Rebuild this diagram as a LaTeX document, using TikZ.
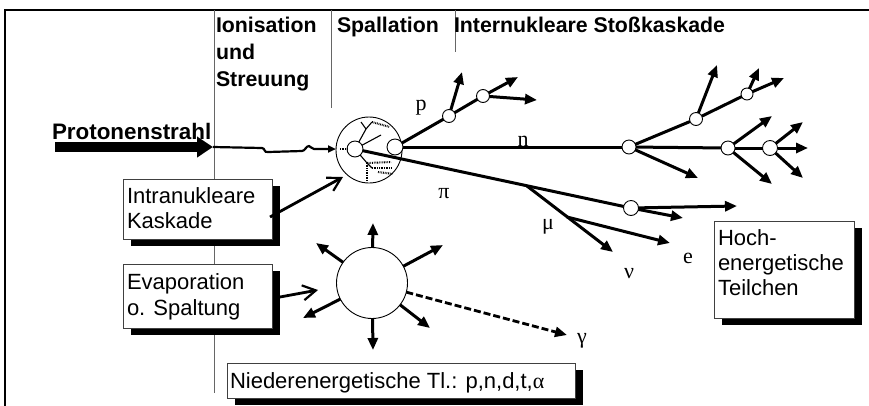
\documentclass[tikz,border=0pt]{standalone}
\usepackage{fontspec}
\setmainfont{Liberation Sans}
\newfontfamily\grfont{Liberation Serif}
\usetikzlibrary{arrows.meta}

\begin{document}
\begin{tikzpicture}[x=1pt, y=-1pt,
  every node/.style={inner sep=0pt, outer sep=0pt},
  hdr/.style={font=\fontsize{21.3}{25}\selectfont\bfseries, anchor=base west},
  txt/.style={font=\fontsize{22}{25}\selectfont, anchor=base west},
  lbl/.style={font=\fontsize{22}{25}\grfont, anchor=base},
  sep/.style={draw=black!60, line width=0.9pt},
  track/.style={line width=3pt},
  ray/.style={line width=3pt, -{Triangle[length=12pt,width=10pt]}},
  vtx/.style={circle, draw, fill=white, line width=0.9pt},
  infobox/.style={rectangle, draw=black!75, line width=0.8pt, fill=white, anchor=north west,
    preaction={fill=black, transform canvas={shift={(8pt,-7pt)}}}},
  fine/.style={line width=1.1pt},
  dots/.style={line width=2pt, dash pattern=on 0.8pt off 0.9pt},
  barb/.style={line width=2.8pt, -{Straight Barb[length=13pt,width=15pt,line width=2.2pt]}},
]
\useasboundingbox (0,0) rectangle (869,405);

% frame (open to the right and bottom)
\draw[line width=2pt] (5,406) -- (5,10) -- (870,10);

% column separators
\draw[sep] (214,10) -- (214,393);
\draw[sep] (331,10) -- (331,108);
\draw[sep] (455,10) -- (455,52);

% column headings
\node[hdr] (hIon) at (216,32) {Ionisation};
\node[hdr] (hUnd) at (216,59) {und};
\node[hdr] (hStr) at (216,86) {Streuung};
\node[hdr] (hSpa) at (337,32) {Spallation};
\node[hdr] (hInt) at (454,32) {Internukleare Stoßkaskade};

% incoming proton beam
\node[hdr, font=\fontsize{22.4}{25}\selectfont\bfseries] (beamlbl) at (52,139) {Protonenstrahl};
\coordinate (beamS) at (55,147);
\coordinate (beamE) at (213,147);
\draw[line width=9.5pt, -{Triangle[length=16pt,width=20pt]}] (beamS) -- (beamE);

% spallation nucleus
\node[circle, draw, line width=0.9pt, minimum size=66pt] (spal) at (369,150) {};
\coordinate (hitE) at (336,149);
\draw[line width=2.2pt, -{Triangle[length=8pt,width=7pt]}] (beamE) -- (262,148)
  .. controls (265,148) and (264,153) .. (268,152) -- (302,151)
  .. controls (305,151) and (306,146) .. (309,146)
  .. controls (311,146) and (311,149) .. (314,149) -- (hitE);

% intranuclear cascade inside the nucleus
\node[vtx, minimum size=16pt] (c1) at (355,149) {};
\node[vtx, minimum size=16pt] (c2) at (395,147) {};
\coordinate (iy) at (366,129);
\coordinate (iya) at (361,122);
\coordinate (iyb) at (372,122);
\coordinate (iq) at (381,135);
\coordinate (ilo) at (367,163);
\draw[fine] (c1) -- (iy) -- (iya);
\draw[fine] (iy) -- (iyb);
\draw[fine] (c1) -- (iq);
\draw[fine] (c1) -- (ilo);
\draw[dots] (iyb) -- (390,127);
\draw[dots] (340,149) -- (c1);
\draw[dots] (ilo) -- (367,181);
\draw[dots] (ilo) -- (391,162);
\draw[dots] (372,168) -- (392,168);
\draw[fine] (372,168) -- (ilo);
\draw[dots] (378,172) -- (393,174);

% intranuclear cascade box
\node[infobox, minimum width=149pt, minimum height=60pt] (intra) at (123,179) {};
\node[txt] (intraA) at (127,203) {Intranukleare};
\node[txt] (intraB) at (127,228) {Kaskade};
\coordinate (intraS) at (270,217);
\coordinate (intraT) at (343,177);
\draw[barb] (intraS) -- (intraT);

% high-energy particles
\node[vtx, minimum size=13pt] (p1) at (449,116) {};
\node[vtx, minimum size=13pt] (p2) at (483,96) {};
\node[vtx, minimum size=14pt] (n1) at (629,147) {};
\node[vtx, minimum size=13pt] (n2) at (696,119) {};
\node[vtx, minimum size=14pt] (n3) at (728,148) {};
\node[vtx, minimum size=15pt] (n4) at (770,148) {};
\node[vtx, minimum size=12pt] (n5) at (747,94) {};
\node[vtx, minimum size=15pt] (pi1) at (631,208) {};

\coordinate (p1a) at (462,72);
\coordinate (p2a) at (518,77);
\coordinate (p2b) at (537,100);
\coordinate (n1a) at (698,178);
\coordinate (n2a) at (717,65);
\coordinate (n5a) at (759,68);
\coordinate (n5b) at (784,78);
\coordinate (n3a) at (772,116);
\coordinate (n3b) at (772,184);
\coordinate (n4a) at (803,122);
\coordinate (n4b) at (803,178);
\coordinate (n4c) at (808,148);
\coordinate (pia) at (737,206);
\coordinate (pib) at (683,218);
\coordinate (mu) at (527,186);
\coordinate (nuT) at (613,252);
\coordinate (eS) at (567,217);
\coordinate (eT) at (670,243);

\draw[track] (c2) -- (p1);
\draw[track] (p1) -- (p2);
\draw[ray] (p1) -- (p1a);
\draw[ray] (p2) -- (p2a);
\draw[ray] (p2) -- (p2b);
\draw[track] (c2) -- (n1);
\draw[track] (n1) -- (n2);
\draw[track] (n1) -- (n3);
\draw[track] (n3) -- (n4);
\draw[track] (n2) -- (n5);
\draw[ray] (n1) -- (n1a);
\draw[ray] (n2) -- (n2a);
\draw[ray] (n5) -- (n5a);
\draw[ray] (n5) -- (n5b);
\draw[ray] (n3) -- (n3a);
\draw[ray] (n3) -- (n3b);
\draw[ray] (n4) -- (n4a);
\draw[ray] (n4) -- (n4b);
\draw[ray] (n4) -- (n4c);
\draw[track] (c1) -- (pi1);
\draw[ray] (pi1) -- (pia);
\draw[ray] (pi1) -- (pib);
\draw[ray] (mu) -- (nuT);
\draw[ray] (eS) -- (eT);

% particle labels
\node[lbl] (lp) at (421,110) {p};
\node[lbl] (ln) at (523,146) {n};
\node[lbl] (lpi) at (444,198) {π};
\node[lbl] (lmu) at (548,229) {μ};
\node[lbl] (lnu) at (629,278) {ν};
\node[lbl] (le) at (688,263) {e};
\node[lbl] (lga) at (582,343) {γ};

% high-energy particles box
\node[infobox, minimum width=140pt, minimum height=97pt] (hoch) at (714,221) {};
\node[txt] (hochA) at (718,245) {Hoch-};
\node[txt] (hochB) at (718,270) {energetische};
\node[txt] (hochC) at (718,295) {Teilchen};

% evaporation / fission
\node[infobox, minimum width=149pt, minimum height=64pt] (evbox) at (123,264) {};
\node[txt] (evA) at (127,289) {Evaporation};
\node[txt] (evB) at (127,315) {o. Spaltung};
\coordinate (evS) at (280,297);
\coordinate (evT) at (318,290);
\draw[barb] (evS) -- (evT);

\node[circle, draw, line width=0.9pt, fill=white, minimum size=71pt] (evap) at (372,283) {};
\coordinate (rUp) at (373,223);
\coordinate (rDn) at (373,350);
\coordinate (rUL) at (316,243);
\coordinate (rUR) at (443,245);
\coordinate (rDL) at (303,318);
\coordinate (rDR) at (430,328);
\coordinate (rGa) at (567,335);
\draw[ray] (evap) -- (rUp);
\draw[ray] (evap) -- (rDn);
\draw[ray] (evap) -- (rUL);
\draw[ray] (evap) -- (rUR);
\draw[ray] (evap) -- (rDL);
\draw[ray] (evap) -- (rDR);
\draw[line width=2.8pt, dash pattern=on 7pt off 3pt, -{Triangle[length=12pt,width=10pt]}] (evap) -- (rGa);

% low-energy particles box
\node[infobox, minimum width=348pt, minimum height=35pt] (nieder) at (227,363) {};
\node[txt] (niederT) at (230,388) {Niederenergetische Tl.: p,n,d,t,{\grfont α}};

\end{tikzpicture}
\end{document}
